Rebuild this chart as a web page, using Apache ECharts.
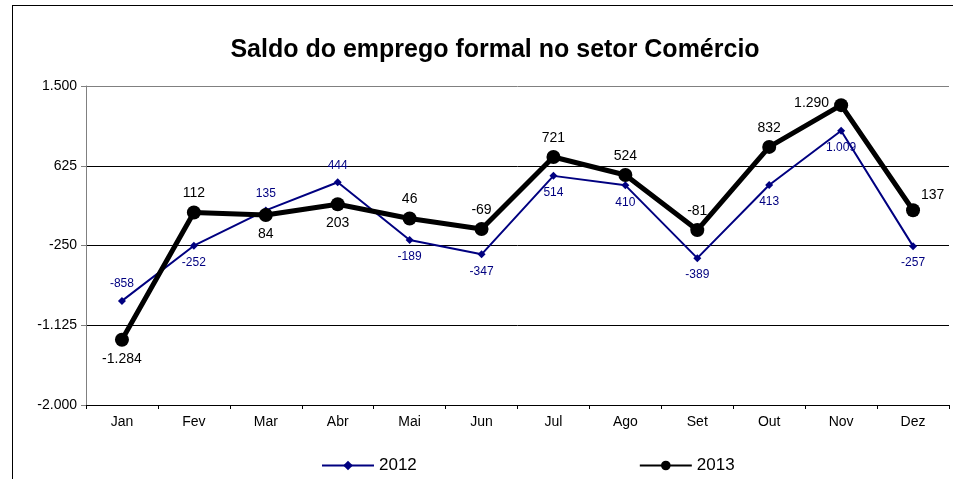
<!DOCTYPE html>
<html>
<head>
<meta charset="utf-8">
<script src="https://cdn.jsdelivr.net/npm/echarts@6/dist/echarts.min.js"></script>
<style>
  html, body { margin: 0; padding: 0; background: #fff; }
  #frame { position: absolute; left: 12px; top: 5px; width: 960px; height: 500px; border: 1px solid #000; box-sizing: border-box; }
  #main { position: absolute; left: 0; top: 0; width: 953px; height: 479px; }
</style>
</head>
<body>
<div id="frame"></div>
<div id="main"></div>
<script>
const months = ["Jan", "Fev", "Mar", "Abr", "Mai", "Jun", "Jul", "Ago", "Set", "Out", "Nov", "Dez"];
const saldo2012 = [-858, -252, 135, 444, -189, -347, 514, 410, -389, 413, 1009, -257];
const saldo2013 = [-1284, 112, 84, 203, 46, -69, 721, 524, -81, 832, 1290, 137];
const yTicks = [-2000, -1125, -250, 625, 1500];

// label placement for each month
const pos2012 = ["top", "bottom", "top", "top", "bottom", "bottom", "bottom", "bottom", "bottom", "bottom", "bottom", "bottom"];
const pos2013 = ["bottom", "top", "bottom", "bottom", "top", "top", "top", "top", "top", "top", "left", "right"];

function fmt(v) {
  const s = String(Math.abs(v));
  const t = s.length > 3 ? s.slice(0, s.length - 3) + "." + s.slice(-3) : s;
  return (v < 0 ? "-" : "") + t;
}

function withLabels(values, positions) {
  return values.map((v, i) => {
    const label = { position: positions[i] };
    if (positions[i] === "left") { label.offset = [0, -2]; }
    if (positions[i] === "right") { label.offset = [-4, -15]; }
    return { value: v, label: label };
  });
}

const chart = echarts.init(document.getElementById("main"));
chart.setOption({
  animation: false,
  textStyle: { fontFamily: "Liberation Sans, Arial, sans-serif" },
  title: {
    text: "Saldo do emprego formal no setor Comércio",
    left: 490,
    textAlign: "center",
    top: 33,
    textStyle: { fontSize: 25, fontWeight: "bold", color: "#000", fontFamily: "Liberation Sans, Arial, sans-serif" }
  },
  grid: { left: 86, right: 4, top: 86, bottom: 74 },
  legend: {
    bottom: 0,
    left: 316,
    itemGap: 222,
    itemWidth: 52,
    itemHeight: 12,
    textStyle: { fontSize: 17, color: "#000", fontFamily: "Liberation Sans, Arial, sans-serif" },
    data: ["2012", "2013"]
  },
  xAxis: {
    type: "category",
    data: months,
    boundaryGap: true,
    axisLine: { onZero: false, lineStyle: { color: "#000", width: 1 } },
    axisTick: { show: true, length: 4, lineStyle: { color: "#000" } },
    axisLabel: { fontSize: 14, color: "#000", margin: 10 }
  },
  yAxis: {
    type: "value",
    min: yTicks[0],
    max: yTicks[yTicks.length - 1],
    interval: 875,
    axisLine: { show: true, lineStyle: { color: "#808080", width: 1 } },
    axisTick: { show: true, length: 5, lineStyle: { color: "#808080" } },
    axisLabel: { fontSize: 14, color: "#000", margin: 9, formatter: v => fmt(v) },
    splitLine: {
      show: true,
      lineStyle: { color: ["#808080", "#000", "#000", "#000", "#808080"], width: 1 }
    }
  },
  series: [
    {
      name: "2012",
      type: "line",
      data: withLabels(saldo2012, pos2012),
      symbol: "diamond",
      symbolSize: 8,
      z: 3,
      lineStyle: { color: "#000080", width: 2 },
      itemStyle: { color: "#000080" },
      label: { show: true, fontSize: 12, color: "#000080", distance: 7, formatter: p => fmt(p.value) }
    },
    {
      name: "2013",
      type: "line",
      data: withLabels(saldo2013, pos2013),
      symbol: "circle",
      symbolSize: 14,
      z: 4,
      lineStyle: { color: "#000", width: 5 },
      itemStyle: { color: "#000" },
      label: { show: true, fontSize: 14, color: "#000", distance: 5, formatter: p => fmt(p.value) }
    }
  ]
});
</script>
</body>
</html>
